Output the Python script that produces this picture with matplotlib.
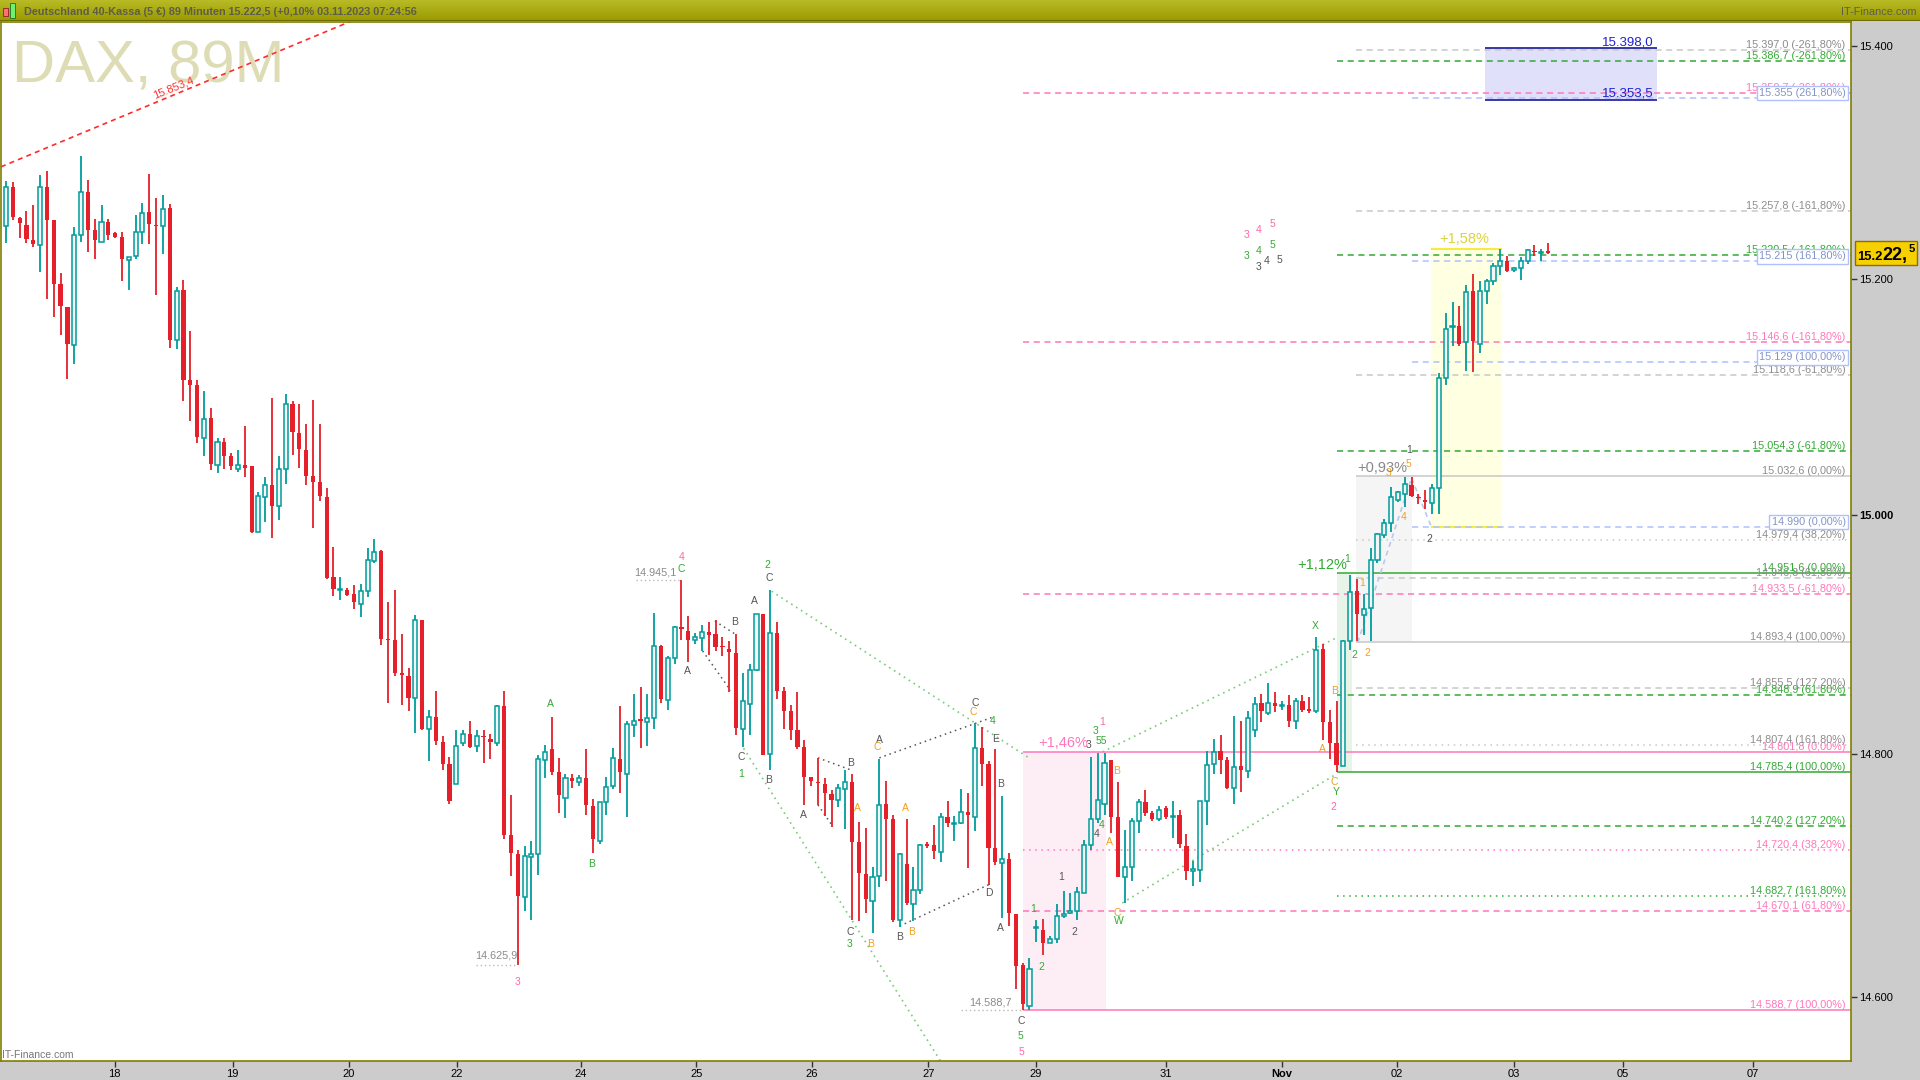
import numpy as np
import matplotlib
matplotlib.use("Agg")
import matplotlib.pyplot as plt
from matplotlib.patches import Rectangle
from matplotlib.colors import LinearSegmentedColormap

plt.rcParams['font.family'] = ['Liberation Sans', 'DejaVu Sans']

# 89-minute DAX candles (oldest first)
opens = [15245, 15279, 15252, 15246, 15233, 15229, 15279, 15250, 15196, 15176,
         15144, 15238, 15274, 15242, 15232, 15249, 15239, 15236, 15216, 15220,
         15240, 15257, 15246, 15245, 15261, 15148, 15191, 15114, 15110, 15065,
         15082, 15042, 15062, 15050, 15039, 15042, 15041, 14986, 15015, 15025,
         15008, 15039, 15094, 15069, 15055, 15033, 15028, 15015, 14948, 14937,
         14937, 14934, 14925, 14936, 14961, 14970, 14896, 14895, 14867, 14865,
         14847, 14912, 14821, 14831, 14810, 14792, 14775, 14809, 14817, 14807,
         14815, 14813, 14809, 14840, 14733, 14717, 14682, 14715, 14717, 14795,
         14804, 14785, 14764, 14780, 14777, 14780, 14757, 14728, 14760, 14774,
         14796, 14784, 14824, 14829, 14827, 14830, 14890, 14845, 14880, 14906,
         14903, 14895, 14897, 14902, 14900, 14890, 14888, 14884, 14821, 14842,
         14870, 14917, 14800, 14901, 14853, 14836, 14820, 14806, 14781, 14777,
         14775, 14767, 14762, 14771, 14777, 14727, 14701, 14679, 14699, 14759,
         14746, 14663, 14709, 14676, 14688, 14726, 14725, 14719, 14748, 14742,
         14743, 14752, 14748, 14805, 14792, 14722, 14710, 14713, 14668, 14626,
         14592, 14656, 14655, 14644, 14647, 14666, 14669, 14670, 14685, 14725,
         14746, 14759, 14795, 14748, 14698, 14707, 14745, 14760, 14751, 14746,
         14755, 14748, 14750, 14724, 14703, 14704, 14761, 14792, 14803, 14795,
         14772, 14790, 14786, 14820, 14843, 14834, 14843, 14840, 14841, 14828,
         14844, 14837, 14836, 14888, 14827, 14809, 14790, 14894, 14936, 14916,
         14922, 14962, 14983, 14993, 15013, 15018, 15025, 15015, 15013, 15010,
         15023, 15116, 15159, 15160, 15146, 15190, 15145, 15190, 15198, 15211,
         15215, 15208, 15209, 15215, 15224, 15222, 15223]
highs = [15284, 15283, 15253, 15258, 15263, 15289, 15292, 15250, 15205, 15176,
         15244, 15305, 15285, 15251, 15263, 15251, 15240, 15240, 15219, 15255,
         15265, 15290, 15269, 15272, 15264, 15193, 15199, 15156, 15114, 15105,
         15090, 15065, 15065, 15052, 15055, 15075, 15041, 15019, 15032, 15099,
         15050, 15102, 15096, 15094, 15077, 15097, 15077, 15023, 14973, 14948,
         14939, 14941, 14942, 14972, 14980, 14971, 14927, 14937, 14900, 14872,
         14916, 14912, 14837, 14853, 14815, 14798, 14820, 14820, 14828, 14820,
         14820, 14817, 14841, 14853, 14766, 14721, 14724, 14728, 14799, 14808,
         14831, 14797, 14784, 14784, 14783, 14804, 14763, 14760, 14781, 14805,
         14840, 14828, 14850, 14856, 14850, 14918, 14891, 14882, 14907, 14945,
         14915, 14901, 14908, 14910, 14912, 14898, 14894, 14900, 14868, 14875,
         14917, 14917, 14937, 14910, 14856, 14841, 14852, 14812, 14781, 14797,
         14780, 14770, 14775, 14787, 14784, 14744, 14739, 14707, 14796, 14778,
         14750, 14718, 14746, 14707, 14726, 14727, 14741, 14751, 14761, 14749,
         14771, 14768, 14826, 14823, 14794, 14804, 14765, 14718, 14668, 14628,
         14632, 14663, 14664, 14650, 14676, 14687, 14685, 14690, 14729, 14798,
         14801, 14801, 14795, 14777, 14737, 14747, 14763, 14770, 14753, 14757,
         14757, 14761, 14754, 14734, 14712, 14761, 14803, 14813, 14816, 14798,
         14832, 14828, 14836, 14848, 14850, 14859, 14852, 14844, 14849, 14847,
         14849, 14848, 14898, 14892, 14837, 14844, 14895, 14950, 14946, 14934,
         14972, 14985, 14997, 15024, 15020, 15032, 15032, 15018, 15021, 15026,
         15120, 15171, 15180, 15177, 15195, 15204, 15198, 15200, 15214, 15226,
         15220, 15210, 15219, 15226, 15229, 15226, 15231]
lows = [15231, 15250, 15235, 15231, 15227, 15206, 15183, 15168, 15152, 15115,
        15128, 15232, 15223, 15217, 15232, 15233, 15235, 15198, 15191, 15217,
        15230, 15230, 15186, 15221, 15141, 15140, 15096, 15079, 15061, 15050,
        15038, 15035, 15039, 15038, 15036, 15032, 14985, 14986, 14994, 14981,
        14996, 15026, 15051, 15040, 15025, 14989, 15012, 14946, 14932, 14929,
        14932, 14921, 14914, 14931, 14960, 14891, 14843, 14865, 14841, 14836,
        14818, 14820, 14794, 14808, 14787, 14759, 14775, 14807, 14805, 14802,
        14793, 14796, 14807, 14730, 14699, 14626, 14670, 14663, 14700, 14780,
        14783, 14751, 14747, 14772, 14774, 14750, 14718, 14726, 14750, 14771,
        14768, 14748, 14814, 14805, 14807, 14821, 14843, 14837, 14875, 14895,
        14877, 14892, 14886, 14883, 14886, 14882, 14852, 14816, 14806, 14816,
        14869, 14799, 14787, 14846, 14821, 14812, 14804, 14758, 14774, 14758,
        14749, 14740, 14756, 14738, 14663, 14662, 14669, 14652, 14690, 14695,
        14661, 14657, 14675, 14662, 14684, 14722, 14713, 14711, 14740, 14728,
        14742, 14706, 14736, 14774, 14692, 14708, 14665, 14658, 14606, 14589,
        14589, 14645, 14634, 14644, 14644, 14665, 14668, 14663, 14685, 14721,
        14743, 14750, 14735, 14698, 14677, 14695, 14735, 14749, 14745, 14745,
        14746, 14731, 14722, 14696, 14691, 14694, 14741, 14784, 14784, 14771,
        14759, 14769, 14780, 14814, 14827, 14833, 14835, 14837, 14823, 14821,
        14835, 14834, 14834, 14812, 14796, 14785, 14790, 14887, 14894, 14899,
        14894, 14960, 14981, 14986, 15011, 15007, 15015, 15009, 15005, 15001,
        15001, 15110, 15143, 15143, 15122, 15121, 15137, 15179, 15195, 15203,
        15206, 15206, 15199, 15213, 15220, 15215, 15221]
closes = [15279, 15253, 15248, 15234, 15230, 15279, 15250, 15196, 15177, 15145,
          15238, 15274, 15242, 15233, 15249, 15238, 15236, 15217, 15219, 15240,
          15256, 15247, 15245, 15260, 15148, 15190, 15114, 15110, 15066, 15081,
          15043, 15062, 15050, 15041, 15042, 15040, 14986, 15016, 15025, 15008,
          15039, 15094, 15070, 15056, 15033, 15028, 15016, 14947, 14938, 14938,
          14933, 14927, 14936, 14962, 14969, 14896, 14895, 14868, 14866, 14847,
          14912, 14821, 14831, 14811, 14792, 14761, 14807, 14817, 14806, 14815,
          14814, 14810, 14840, 14733, 14718, 14683, 14716, 14717, 14796, 14802,
          14785, 14766, 14780, 14778, 14780, 14758, 14730, 14760, 14773, 14797,
          14785, 14825, 14828, 14828, 14830, 14890, 14846, 14880, 14906, 14904,
          14895, 14898, 14902, 14899, 14889, 14889, 14885, 14822, 14844, 14870,
          14917, 14799, 14901, 14853, 14836, 14820, 14806, 14781, 14778, 14776,
          14768, 14762, 14772, 14777, 14727, 14702, 14680, 14698, 14758, 14746,
          14663, 14717, 14677, 14688, 14725, 14724, 14720, 14748, 14743, 14743,
          14752, 14750, 14805, 14792, 14722, 14711, 14713, 14669, 14625, 14594,
          14623, 14657, 14644, 14647, 14666, 14668, 14670, 14686, 14725, 14746,
          14762, 14793, 14748, 14698, 14707, 14745, 14760, 14751, 14746, 14754,
          14748, 14749, 14726, 14703, 14705, 14761, 14791, 14802, 14795, 14772,
          14789, 14787, 14830, 14842, 14836, 14843, 14840, 14841, 14828, 14844,
          14837, 14836, 14887, 14827, 14809, 14791, 14894, 14935, 14917, 14921,
          14962, 14984, 14993, 15015, 15019, 15026, 15016, 15014, 15011, 15023,
          15116, 15157, 15160, 15145, 15189, 15147, 15190, 15198, 15211, 15215,
          15207, 15208, 15215, 15225, 15223, 15223, 15222.5]

day_labels = ["18", "19", "20", "22", "24", "25", "26", "27", "29", "31",
              "Nov", "02", "03", "05", "07"]
day_pos = [15.95, 33.2, 50.2, 66.1, 84.2, 101.2, 118.1, 135.2, 150.9, 170.0,
           187.0, 203.9, 221.0, 237.0, 256.0]
price_ticks = [14600, 14800, 15000, 15200, 15400]

# fibonacci projection levels (value, percent, line style)
gray_lv = [15397.0, 15257.8, 15118.6, 15032.6, 14979.4, 14946.8, 14893.4, 14855.5, 14807.4]
gray_pct = [-261.8, -161.8, -61.8, 0, 38.2, 61.8, 100, 127.2, 161.8]
gray_ls = ['--', '--', '--', '-', ':', '--', '-', '--', ':']
green_lv = [15386.7, 15220.5, 15054.3, 14951.6, 14848.9, 14785.4, 14740.2, 14682.7]
green_pct = [-261.8, -161.8, -61.8, 0, 61.8, 100, 127.2, 161.8]
green_ls = ['--', '--', '--', '-', '--', '-', '--', ':']
pink_lv = [15359.7, 15146.6, 14933.5, 14801.8, 14720.4, 14670.1, 14588.7]
pink_pct = [-261.8, -161.8, -61.8, 0, 38.2, 61.8, 100]
pink_ls = ['--', '--', '--', '-', ':', '--', '-']
blue_lv = [15355, 15215, 15129, 14990]
blue_pct = [261.8, 161.8, 100, 0]

# wave counts: text, colour key, candle index, price
waves = [
    ("4", "p", 99.0, 14965), ("C", "g", 98.9, 14955), ("A", "k", 99.9, 14869),
    ("A", "g", 79.8, 14842), ("B", "g", 85.8, 14709), ("3", "p", 74.9, 14612),
    ("2", "g", 111.6, 14958), ("C", "k", 111.8, 14947), ("A", "k", 109.7, 14928),
    ("B", "k", 106.8, 14910), ("C", "k", 107.8, 14798), ("1", "g", 107.7, 14784),
    ("B", "k", 111.8, 14779), ("A", "k", 116.8, 14750), ("B", "k", 123.8, 14793),
    ("A", "o", 124.8, 14755), ("C", "k", 123.8, 14653), ("3", "g", 123.6, 14643),
    ("B", "o", 126.7, 14643), ("A", "k", 128.0, 14812), ("C", "o", 127.7, 14806),
    ("A", "o", 131.8, 14755), ("B", "k", 131.0, 14649), ("B", "o", 132.7, 14653),
    ("C", "k", 142.0, 14843), ("C", "o", 141.8, 14835), ("4", "g", 144.6, 14828),
    ("E", "k", 145.0, 14813), ("B", "k", 145.8, 14775), ("D", "k", 144.0, 14685),
    ("A", "k", 145.8, 14656), ("C", "k", 148.8, 14580), ("5", "g", 148.7, 14568),
    ("5", "p", 148.8, 14555), ("1", "g", 150.6, 14672), ("2", "g", 151.8, 14624),
    ("1", "k", 154.7, 14698), ("2", "k", 156.6, 14653), ("3", "k", 158.7, 14808),
    ("55", "g", 160.6, 14811), ("3", "g", 159.7, 14819), ("1", "p", 160.6, 14827),
    ("4", "g", 160.6, 14741), ("4", "k", 159.8, 14734), ("B", "o", 162.8, 14786),
    ("A", "o", 161.7, 14727), ("C", "o", 162.8, 14669), ("W", "g", 163.1, 14662),
    ("3", "p", 181.8, 15238), ("4", "p", 183.6, 15242), ("5", "p", 185.6, 15247),
    ("3", "g", 181.8, 15220), ("4", "g", 183.6, 15224), ("5", "g", 185.6, 15229),
    ("3", "k", 183.6, 15210), ("4", "k", 184.7, 15215), ("5", "k", 186.6, 15216),
    ("X", "g", 191.9, 14907), ("B", "o", 194.7, 14853), ("A", "o", 192.9, 14804),
    ("C", "o", 194.7, 14777), ("Y", "g", 195.0, 14769), ("2", "p", 194.6, 14756),
    ("1", "g", 196.6, 14963), ("2", "g", 197.6, 14883), ("2", "o", 199.5, 14884),
    ("1", "o", 198.8, 14943), ("3", "o", 202.6, 15035), ("5", "o", 205.5, 15043),
    ("1", "k", 205.7, 15055), ("4", "o", 204.8, 14998), ("2", "k", 208.6, 14980),
]
wave_col = {"g": "#33aa33", "k": "#555555", "o": "#f0a020", "p": "#ff66aa"}

gains = [("+1,46%", "#ff77bb", 154.9, 14809), ("+1,12%", "#33aa33", 192.9, 14958),
         ("+0,93%", "#888888", 201.7, 15040), ("+1,58%", "#dcd43c", 213.7, 15234)]

UP = '#009c9c'
DN = '#e5202a'
OLIVE = '#7f7f00'


def de(v, nd=1):
    s = f"{v:,.{nd}f}"
    return s.replace(',', '#').replace('.', ',').replace('#', '.')


fig = plt.figure(figsize=(19.2, 10.8), dpi=100)
fig.patch.set_facecolor('white')
fig.patches.append(Rectangle((1851 / 1920, 0), 69 / 1920, 1 - 21 / 1080,
                             transform=fig.transFigure, facecolor='#cccccc',
                             edgecolor='none', zorder=-1))
fig.patches.append(Rectangle((0, 0), 1, 19 / 1080, transform=fig.transFigure,
                             facecolor='#cccccc', edgecolor='none', zorder=-1))

ax = fig.add_axes([1 / 1920, 19 / 1080, 1850 / 1920, 1039 / 1080])
ax.set_yscale('log')
ax.set_xlim(-0.73, 270.4)
ax.set_ylim(14547.4, 15420.8)

o, h, l, c = map(np.array, (opens, highs, lows, closes))
idx = np.arange(len(c))
up = c >= o
ax.vlines(idx[up], l[up], h[up], color=UP, lw=1.3, zorder=3)
ax.vlines(idx[~up], l[~up], h[~up], color=DN, lw=1.3, zorder=3)
body_lo = np.minimum(o, c)
body_h = np.maximum(np.abs(c - o), 1.2)
ax.bar(idx[up], body_h[up], bottom=body_lo[up], width=0.6, facecolor='#f3f6f6',
       edgecolor=UP, lw=1.1, zorder=4)
ax.bar(idx[~up], body_h[~up], bottom=body_lo[~up], width=0.62, color=DN, lw=0, zorder=4)

# shaded move boxes
ax.add_patch(Rectangle((149.0, 14588.7), 12.15, 14801.8 - 14588.7, facecolor='#fdeef6', edgecolor='none', zorder=1))
ax.add_patch(Rectangle((195.0, 14785.4), 2.2, 14951.6 - 14785.4, facecolor='#e8f4e8', edgecolor='none', zorder=1))
ax.add_patch(Rectangle((197.9, 14893.4), 8.1, 15032.6 - 14893.4, facecolor='#f5f5f5', edgecolor='none', zorder=1))
ax.add_patch(Rectangle((208.9, 14990), 10.3, 15226 - 14990, facecolor='#ffffe2', edgecolor='none', zorder=1))
ax.hlines([15226, 14990], 208.9, 219.2, color='#f5ec40', lw=1.5, zorder=2)
ax.add_patch(Rectangle((216.8, 15353.5), 25.2, 15398 - 15353.5, facecolor='#e0e0fb', edgecolor='none', zorder=1))
ax.hlines([15398, 15353.5], 216.8, 242.0, color='#2a2aa0', lw=1.3, zorder=2)
ax.text(241.5, 15398, "15.398,0", color='#2020d0', fontsize=9.5, ha='right', va='bottom', zorder=6)
ax.text(241.5, 15353.5, "15.353,5", color='#2020d0', fontsize=9.5, ha='right', va='bottom', zorder=6)

x_end = 270.4
x_lab = 269.6
fs = 7.8


def level_group(vals, pcts, styles, start, lcol, tcol, box=False, integer=False):
    for v, p, ls in zip(vals, pcts, styles):
        dash = (0, (4, 3)) if ls == '--' else ((0, (1, 3)) if ls == ':' else '-')
        ax.hlines(v, start, x_end, color=lcol, lw=1.1, linestyles=dash, zorder=2)
        txt = f"{de(v, 0 if integer else 1)} ({p:.2f}%)".replace('.', ',', 1) if False else \
            f"{de(v, 0 if integer else 1)} ({de(p, 2)}%)"
        if box:
            ax.text(x_lab, v, txt, color=tcol, fontsize=fs, ha='right', va='bottom', zorder=6,
                    bbox=dict(boxstyle='square,pad=0.2', facecolor='white', edgecolor=lcol, lw=1))
        else:
            ax.text(x_lab, v, txt, color=tcol, fontsize=fs, ha='right', va='bottom', zorder=6)


level_group(pink_lv, pink_pct, pink_ls, 149.0, '#ff77bb', '#ff77bb')
level_group(green_lv, green_pct, green_ls, 195.0, '#33aa33', '#33aa33')
level_group(gray_lv, gray_pct, gray_ls, 197.9, '#c8c8c8', '#8c8c8c')
level_group(blue_lv, blue_pct, ['--'] * 4, 206.0, '#b0c0ff', '#8494c8', box=True, integer=True)

# trend / pattern lines
ax.plot([-0.73, 52], [15296, 15425], color='#ff2a2a', lw=1.2, ls=(0, (3, 2.5)), zorder=2)
ax.text(24.6, 15364, "15.853,4", color='#ff3030', fontsize=8, rotation=22,
        rotation_mode='anchor', ha='center', va='center')
for xs, ys in [((112.2, 150.2), (14936, 14796)), ((108.1, 137.0), (14805, 14547)),
               ((160.7, 195.0), (14802, 14897)), ((163.6, 195.1), (14677, 14784))]:
    ax.plot(xs, ys, color='#77cc77', lw=1.2, ls=(0, (1, 2.5)), zorder=2)
for xs, ys in [((103.9, 106.9), (14911, 14900)), ((102.1, 106.2), (14886, 14853)),
               ((119.0, 123.8), (14797, 14787)), ((119.0, 121.2), (14758, 14740)),
               ((128.0, 144.7), (14797, 14831)), ((131.0, 144.0), (14658, 14692))]:
    ax.plot(xs, ys, color='#555555', lw=1.1, ls=(0, (1, 2.5)), zorder=2)
for xs, ys in [((198.1, 206.0), (14893, 15031)), ((206.0, 208.9), (15031, 14990))]:
    ax.plot(xs, ys, color='#b8c8f0', lw=1.2, ls=(0, (3, 2.5)), zorder=2)

# swing high / low labels
for txt, x0, x1, v, xt, vt in [("14.945,1", 92.3, 99.0, 14945.1, 95.2, 14952),
                                ("14.625,9", 68.9, 74.9, 14625.9, 71.8, 14634),
                                ("14.588,7", 139.9, 149.0, 14588.7, 144.3, 14595)]:
    ax.hlines(v, x0, x1, color='#bbbbbb', lw=1, linestyles=(0, (1, 2)), zorder=2)
    ax.text(xt, vt, txt, color='#8a8a8a', fontsize=fs, ha='center', va='center', zorder=6)

for txt, k, x, v in waves:
    ax.text(x, v, txt, color=wave_col[k], fontsize=7.5, ha='center', va='center', zorder=6)
for txt, col, x, v in gains:
    ax.text(x, v, txt, color=col, fontsize=10.5, ha='center', va='center', zorder=6)

ax.text(12 / 1920, 1 - 83 / 1080, "DAX, 89M", transform=fig.transFigure, fontsize=43,
        color='#dedcb4', va='baseline', ha='left', zorder=0.5)
ax.text(2 / 1920, 1 - 1055 / 1080, "IT-Finance.com", transform=fig.transFigure,
        fontsize=7.5, color='#777777', va='center', ha='left')

# axes styling
for s in ax.spines.values():
    s.set_color(OLIVE)
    s.set_linewidth(1.2)
ax.yaxis.tick_right()
ax.set_yticks(price_ticks, labels=[de(p, 0) for p in price_ticks])
ax.set_yticks([], minor=True)
ax.set_xticks(day_pos, labels=day_labels)
ax.tick_params(axis='both', direction='out', length=4, width=1, colors='#333333',
               labelcolor='black', labelsize=8, pad=2)
for lbl in ax.get_yticklabels():
    if lbl.get_text() == "15.000":
        lbl.set_fontweight('bold')
for lbl in ax.get_xticklabels():
    if lbl.get_text() == "Nov":
        lbl.set_fontweight('bold')

# last price tag
yb = fig.transFigure.inverted().transform(ax.transData.transform((0, closes[-1])))[1]
fig.patches.append(Rectangle((1855 / 1920, yb - 12 / 1080), 62 / 1920, 24 / 1080,
                             transform=fig.transFigure, facecolor='#f6d000',
                             edgecolor='#8a7000', lw=1, zorder=5))
base = yb - 7.5 / 1080
fig.text(1857 / 1920, base, "15.2", fontsize=9.4, fontweight='bold', va='baseline', zorder=6)
fig.text(1882 / 1920, base, "22,", fontsize=13, fontweight='bold', va='baseline', zorder=6)
fig.text(1909 / 1920, base + 8 / 1080, "5", fontsize=8, fontweight='bold', va='baseline', zorder=6)

# header bar
hax = fig.add_axes([0, 1 - 21 / 1080, 1, 21 / 1080])
grad = np.linspace(0, 1, 50).reshape(-1, 1)
hax.imshow(grad, aspect='auto', extent=[0, 1, 0, 1], origin='lower',
           cmap=LinearSegmentedColormap.from_list('hdr', ['#9b9a00', '#b8bb26']))
hax.set_xlim(0, 1)
hax.set_ylim(0, 1)
hax.axis('off')
hax.axhline(0.02, color='#6e6e00', lw=1.5)
hax.add_patch(Rectangle((3 / 1920, 0.22), 5 / 1920, 0.4, facecolor='#ff7070', edgecolor='#902020', lw=0.6))
hax.add_patch(Rectangle((10 / 1920, 0.15), 5 / 1920, 0.72, facecolor='#70f070', edgecolor='#207020', lw=0.6))
hax.text(24 / 1920, 0.45, "Deutschland 40-Kassa (5 €) 89 Minuten 15.222,5 (+0,10% 03.11.2023 07:24:56",
         fontsize=7.8, fontweight='bold', color='#5e5e48', va='center', ha='left')
hax.text(1917 / 1920, 0.45, "IT-Finance.com", fontsize=7.8, color='#5e5e48',
         va='center', ha='right')

fig.savefig("out.png", dpi=100)
